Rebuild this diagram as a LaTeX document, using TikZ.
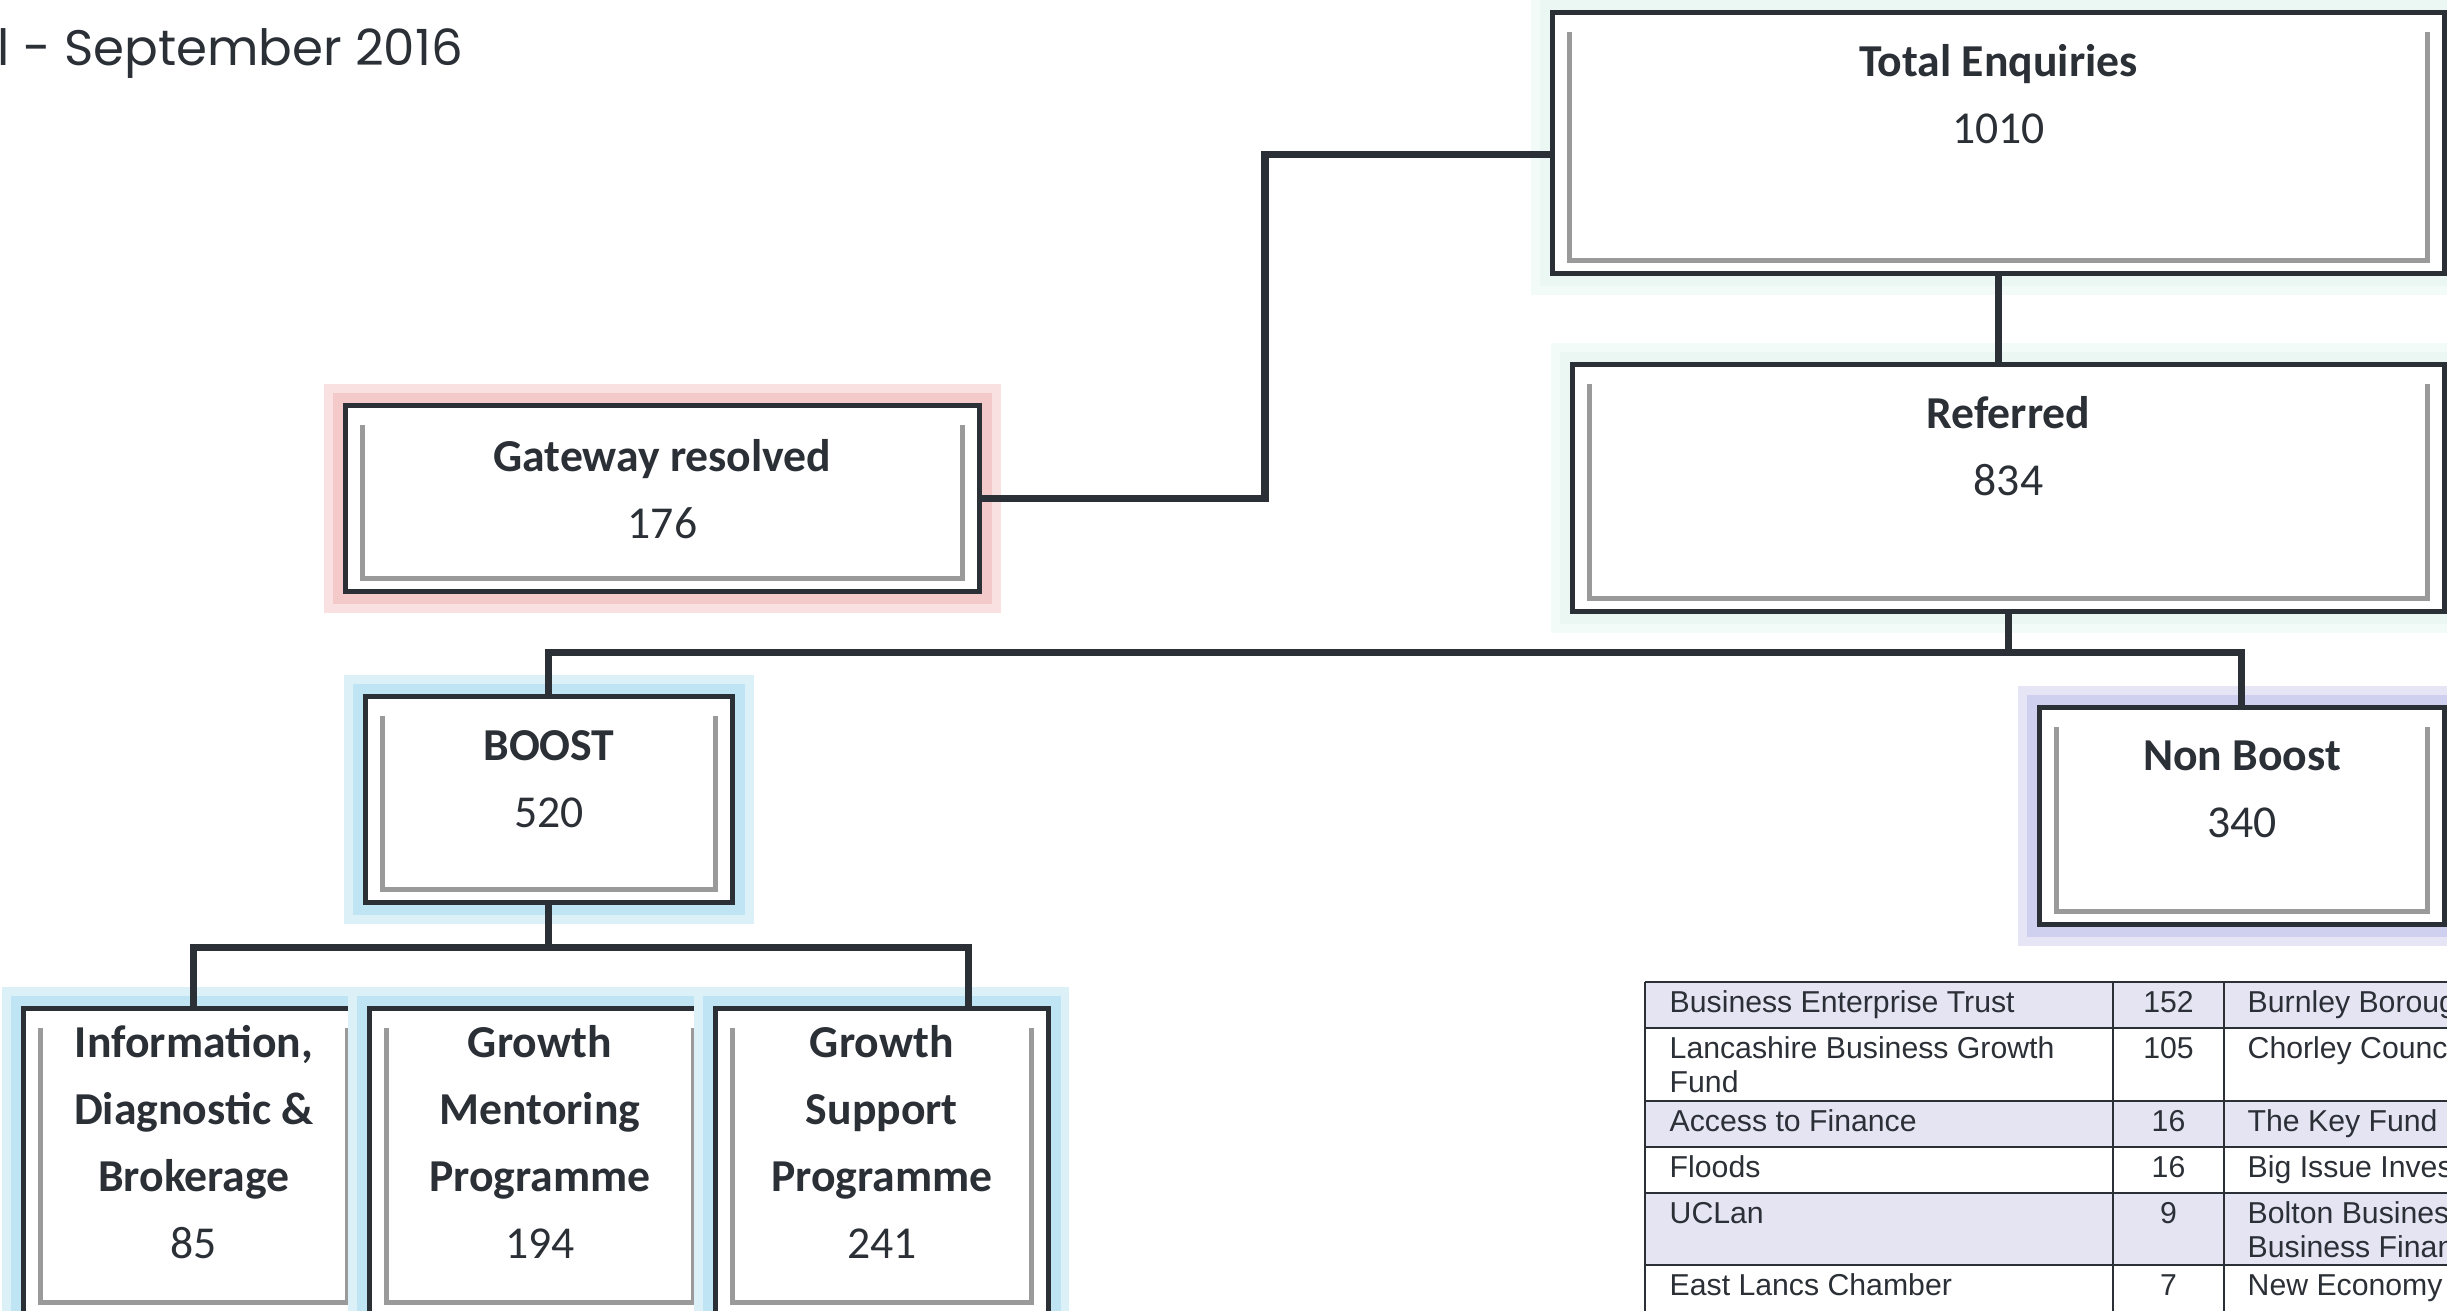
\documentclass[tikz,border=0pt]{standalone}
\usepackage{fontspec}
\setmainfont{Carlito}
\newfontfamily\titulofont{Poppins}
\newfontfamily\tablafont{Liberation Sans}
\usetikzlibrary{positioning}

\begin{document}
\begin{tikzpicture}[
    caja/.style={draw=oscuro, line width=1.4pt, fill=white, inner sep=0pt, anchor=north west,
      path picture={
        \draw[gris, line width=1.5pt]
          ([shift={(0.17,-0.2)}]path picture bounding box.north west)
          -- ([shift={(0.17,0.13)}]path picture bounding box.south west)
          -- ([shift={(-0.17,0.13)}]path picture bounding box.south east)
          -- ([shift={(-0.17,-0.2)}]path picture bounding box.north east);
      }},
    brillo/.style={preaction={draw=#1!55!white, line width=12pt},
                   preaction={draw=#1, line width=7pt}},
    texto/.style={anchor=base, align=center, inner sep=0pt, text=oscuro,
                  font=\fontsize{13}{19}\selectfont},
    linea/.style={draw=oscuro, line width=2pt},
    celda/.style={inner sep=0pt, text=oscuro, font=\tablafont\fontsize{8.6}{10}\selectfont},
    rejilla/.style={draw=oscuro, line width=0.8pt}
  ]
        %colores
        \definecolor{oscuro}{HTML}{2B2F36}
        \definecolor{gris}{HTML}{9A9A9A}
        \definecolor{rosa}{HTML}{F4C9C9}
        \definecolor{celeste}{HTML}{BFE4F3}
        \definecolor{lavanda}{HTML}{CFCFEF}
        \definecolor{menta}{HTML}{EAF7F3}
        \definecolor{lila}{HTML}{E4E4F3}

        \useasboundingbox (0,0) rectangle (24.47,-13.10);
        \clip (0,0) rectangle (24.47,-13.10);

        % Titulo
        \node[anchor=base west, inner sep=0pt, text=oscuro, font=\titulofont\fontsize{14.2}{17}\selectfont]
            (titulo) at (-0.03,-0.65) {l - September 2016};

        % Cajas
        \node[caja, brillo=menta, minimum width=8.92cm, minimum height=2.61cm] (total) at (15.50,-0.10) {};
        \node[caja, brillo=rosa, minimum width=6.34cm, minimum height=1.86cm] (gateway) at (3.43,-4.03) {};
        \node[caja, brillo=menta, minimum width=8.72cm, minimum height=2.47cm] (referred) at (15.70,-3.62) {};
        \node[caja, brillo=celeste, minimum width=3.67cm, minimum height=2.06cm] (boost) at (3.63,-6.94) {};
        \node[caja, brillo=lavanda, minimum width=4.05cm, minimum height=2.17cm] (nonboost) at (20.37,-7.05) {};
        \node[caja, brillo=celeste, minimum width=3.41cm, minimum height=3.07cm] (info) at (0.21,-10.06) {};
        \node[caja, brillo=celeste, minimum width=3.41cm, minimum height=3.07cm, right=0pt of info] (mentoring) {};
        \node[caja, brillo=celeste, minimum width=3.33cm, minimum height=3.07cm, right=0pt of mentoring] (support) {};

        % Conectores
        \draw[linea] ([yshift=-1.2mm]total.west) -- ++(-2.85,0) |- (gateway.east);
        \draw[linea] (total.south) -- (total.south |- referred.north);
        \draw[linea] (referred.south) -- ++(0,-0.39);
        \draw[linea] (boost.north) |- ([yshift=-3.9mm]referred.south) -| (nonboost.north);
        \draw[linea] (boost.south) -- ++(0,-0.43);
        \draw[linea] (info.north) |- ([yshift=-4.3mm]boost.south) -| ([xshift=8.7mm]support.north);

        % Textos de las cajas (base = ultima linea)
        \node[texto] (total-t) at ([yshift=-13.3mm]total.north) {\textbf{Total Enquiries}\\1010};
        \node[texto] (gateway-t) at ([yshift=-13.5mm]gateway.north) {\textbf{Gateway resolved}\\176};
        \node[texto] (referred-t) at ([yshift=-13.3mm]referred.north) {\textbf{Referred}\\834};
        \node[texto] (boost-t) at ([yshift=-13.3mm]boost.north) {\textbf{BOOST}\\520};
        \node[texto] (nonboost-t) at ([yshift=-13.2mm]nonboost.north) {\textbf{Non Boost}\\340};
        \begin{scope}[every node/.append style={font=\fontsize{13}{17.6}\selectfont}]
            \node[texto] (info-t) at ([yshift=-25.2mm]info.north) {\textbf{Information,}\\\textbf{Diagnostic \&}\\\textbf{Brokerage}\\85};
            \node[texto] (mentoring-t) at ([yshift=-25.2mm]mentoring.north) {\textbf{Growth}\\\textbf{Mentoring}\\\textbf{Programme}\\194};
            \node[texto] (support-t) at ([yshift=-25.2mm]support.north) {\textbf{Growth}\\\textbf{Support}\\\textbf{Programme}\\241};
        \end{scope}

        % Tabla
        \fill[lila] (16.45,-9.82) rectangle (24.47,-10.28);
        \fill[lila] (16.45,-11.01) rectangle (24.47,-11.47);
        \fill[lila] (16.45,-11.93) rectangle (24.47,-12.65);
        \foreach \y in {9.82,10.28,11.01,11.47,11.93,12.65}
            \draw[rejilla] (16.45,-\y) -- (24.6,-\y);
        \foreach \x in {16.45,21.13,22.24}
            \draw[rejilla] (\x,-9.82) -- (\x,-13.3);
        \foreach \y/\a/\n/\c [count=\i] in {10.12/Business Enterprise Trust/152/Burnley Boroug,
                10.58/Lancashire Business Growth/105/Chorley Counc,
                11.31/Access to Finance/16/The Key Fund,
                11.77/Floods/16/Big Issue Inves,
                12.23/UCLan/9/Bolton Busines,
                12.95/East Lancs Chamber/7/New Economy}{
            \node[celda, anchor=base west] (a\i) at (16.69,-\y) {\a};
            \node[celda, anchor=base] (n\i) at (21.685,-\y) {\n};
            \node[celda, anchor=base west] (c\i) at (22.47,-\y) {\c};
        }
        \node[celda, anchor=base west] (a2b) at (16.69,-10.92) {Fund};
        \node[celda, anchor=base west] (c5b) at (22.47,-12.57) {Business Finan};
\end{tikzpicture}
\end{document}
